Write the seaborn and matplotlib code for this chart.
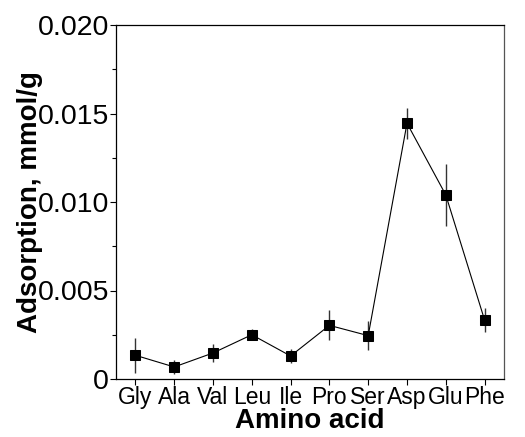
import matplotlib
matplotlib.use("Agg")
import matplotlib.pyplot as plt
import seaborn as sns
import pandas as pd
from matplotlib.ticker import MultipleLocator, FixedLocator

amino_acids = ["Gly", "Ala", "Val", "Leu", "Ile", "Pro", "Ser", "Asp", "Glu", "Phe"]
adsorption = [0.00134, 0.00068, 0.00147, 0.00250, 0.00130, 0.00303, 0.00245, 0.01445, 0.01040, 0.00333]
errors = [0.00100, 0.00040, 0.00050, 0.00032, 0.00038, 0.00085, 0.00080, 0.00088, 0.00175, 0.00068]

df = pd.DataFrame({"Amino acid": amino_acids, "Adsorption": adsorption, "err": errors})

sns.set_style("ticks")
plt.rcParams["font.family"] = ["Liberation Sans", "DejaVu Sans"]
plt.rcParams["text.color"] = "black"
plt.rcParams["axes.labelcolor"] = "black"
plt.rcParams["xtick.color"] = "black"
plt.rcParams["ytick.color"] = "black"

fig = plt.figure(figsize=(5.25, 4.37), dpi=100)
ax = fig.add_axes([116/525, 1-379/437, (504-116)/525, (379-25)/437])

ax.errorbar(df["Amino acid"], df["Adsorption"], yerr=df["err"], fmt="none",
            ecolor="#333333", elinewidth=1.0, capsize=0, zorder=2)
sns.lineplot(data=df, x="Amino acid", y="Adsorption", ax=ax, color="black",
             linewidth=0.8, marker="s", markersize=6.5, markeredgecolor="black",
             markerfacecolor="black", sort=False, zorder=3)

ax.set_xlim(-0.5, 9.5)
ax.set_ylim(0, 0.020)
ax.yaxis.set_major_locator(FixedLocator([0, 0.005, 0.010, 0.015, 0.020]))
ax.set_yticklabels(["0", "0.005", "0.010", "0.015", "0.020"])
ax.yaxis.set_minor_locator(MultipleLocator(0.0025))
ax.tick_params(axis="y", which="major", labelsize=20.5, direction="out", length=4, width=0.8, pad=1, colors="black")
ax.tick_params(axis="y", which="minor", direction="out", length=3, width=0.8, colors="black")
ax.tick_params(axis="x", which="major", labelsize=16.5, direction="out", length=4, width=0.8, pad=1, colors="black")
ax.tick_params(top=False, right=False)
for s in ax.spines.values():
    s.set_visible(True)
    s.set_linewidth(0.9)
    s.set_color("black")
ax.spines["right"].set_color("#555555")

ax.set_xlabel("Amino acid", fontsize=20, fontweight="bold", labelpad=-1, color="black")
ax.set_ylabel("Adsorption, mmol/g", fontsize=20, fontweight="bold", labelpad=-4, color="black")

fig.savefig("out.png", dpi=100)
